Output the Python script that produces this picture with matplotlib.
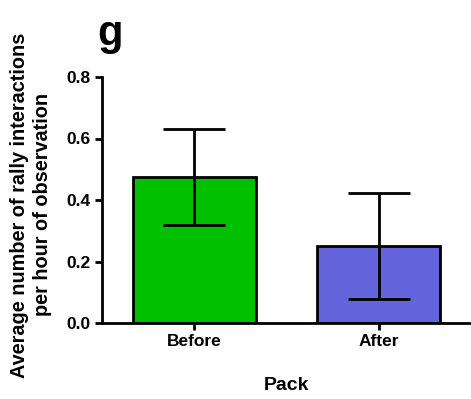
import matplotlib
matplotlib.use("Agg")
import matplotlib.pyplot as plt

# data
categories = ["Before", "After"]
means = [0.475, 0.250]
errors = [0.157, 0.172]
bar_colors = ["#00C000", "#6464DC"]
yticks = [0.0, 0.2, 0.4, 0.6, 0.8]

plt.rcParams['font.family'] = ['Liberation Sans', 'DejaVu Sans']
plt.rcParams['font.weight'] = 'bold'

fig = plt.figure(figsize=(4.71, 3.99), dpi=100)
ax = fig.add_axes([102 / 471, 1 - 323 / 399, 1 - 102 / 471, (323 - 77) / 399])

x = list(range(len(categories)))
ax.bar(x, means, width=0.667, color=bar_colors, edgecolor="black", linewidth=2, zorder=2)
ax.errorbar(x, means, yerr=errors, fmt="none", ecolor="black", elinewidth=2,
            capsize=22, capthick=2, zorder=3)

ax.set_xlim(-0.5, 1.5)
ax.set_ylim(0, 0.8)
ax.set_yticks(yticks)
ax.set_yticklabels([f"{v:.1f}" for v in yticks])
ax.set_xticks(x)
ax.set_xticklabels(categories)

for side in ["top", "right"]:
    ax.spines[side].set_visible(False)
for side in ["left", "bottom"]:
    ax.spines[side].set_linewidth(2)
ax.tick_params(axis="both", width=2, length=5, labelsize=12.5, pad=3)

ax.set_xlabel("Pack", fontsize=14, fontweight="bold", labelpad=20)
ax.set_ylabel("Average number of rally interactions\nper hour of observation",
              fontsize=14.3, fontweight="bold", linespacing=1.3)
ax.yaxis.set_label_coords(-0.135, 0.48)

fig.text(97 / 471, 1 - 14 / 399, "g", fontsize=30, fontweight="bold", va="top", ha="left")

fig.savefig("out.png", dpi=100)
